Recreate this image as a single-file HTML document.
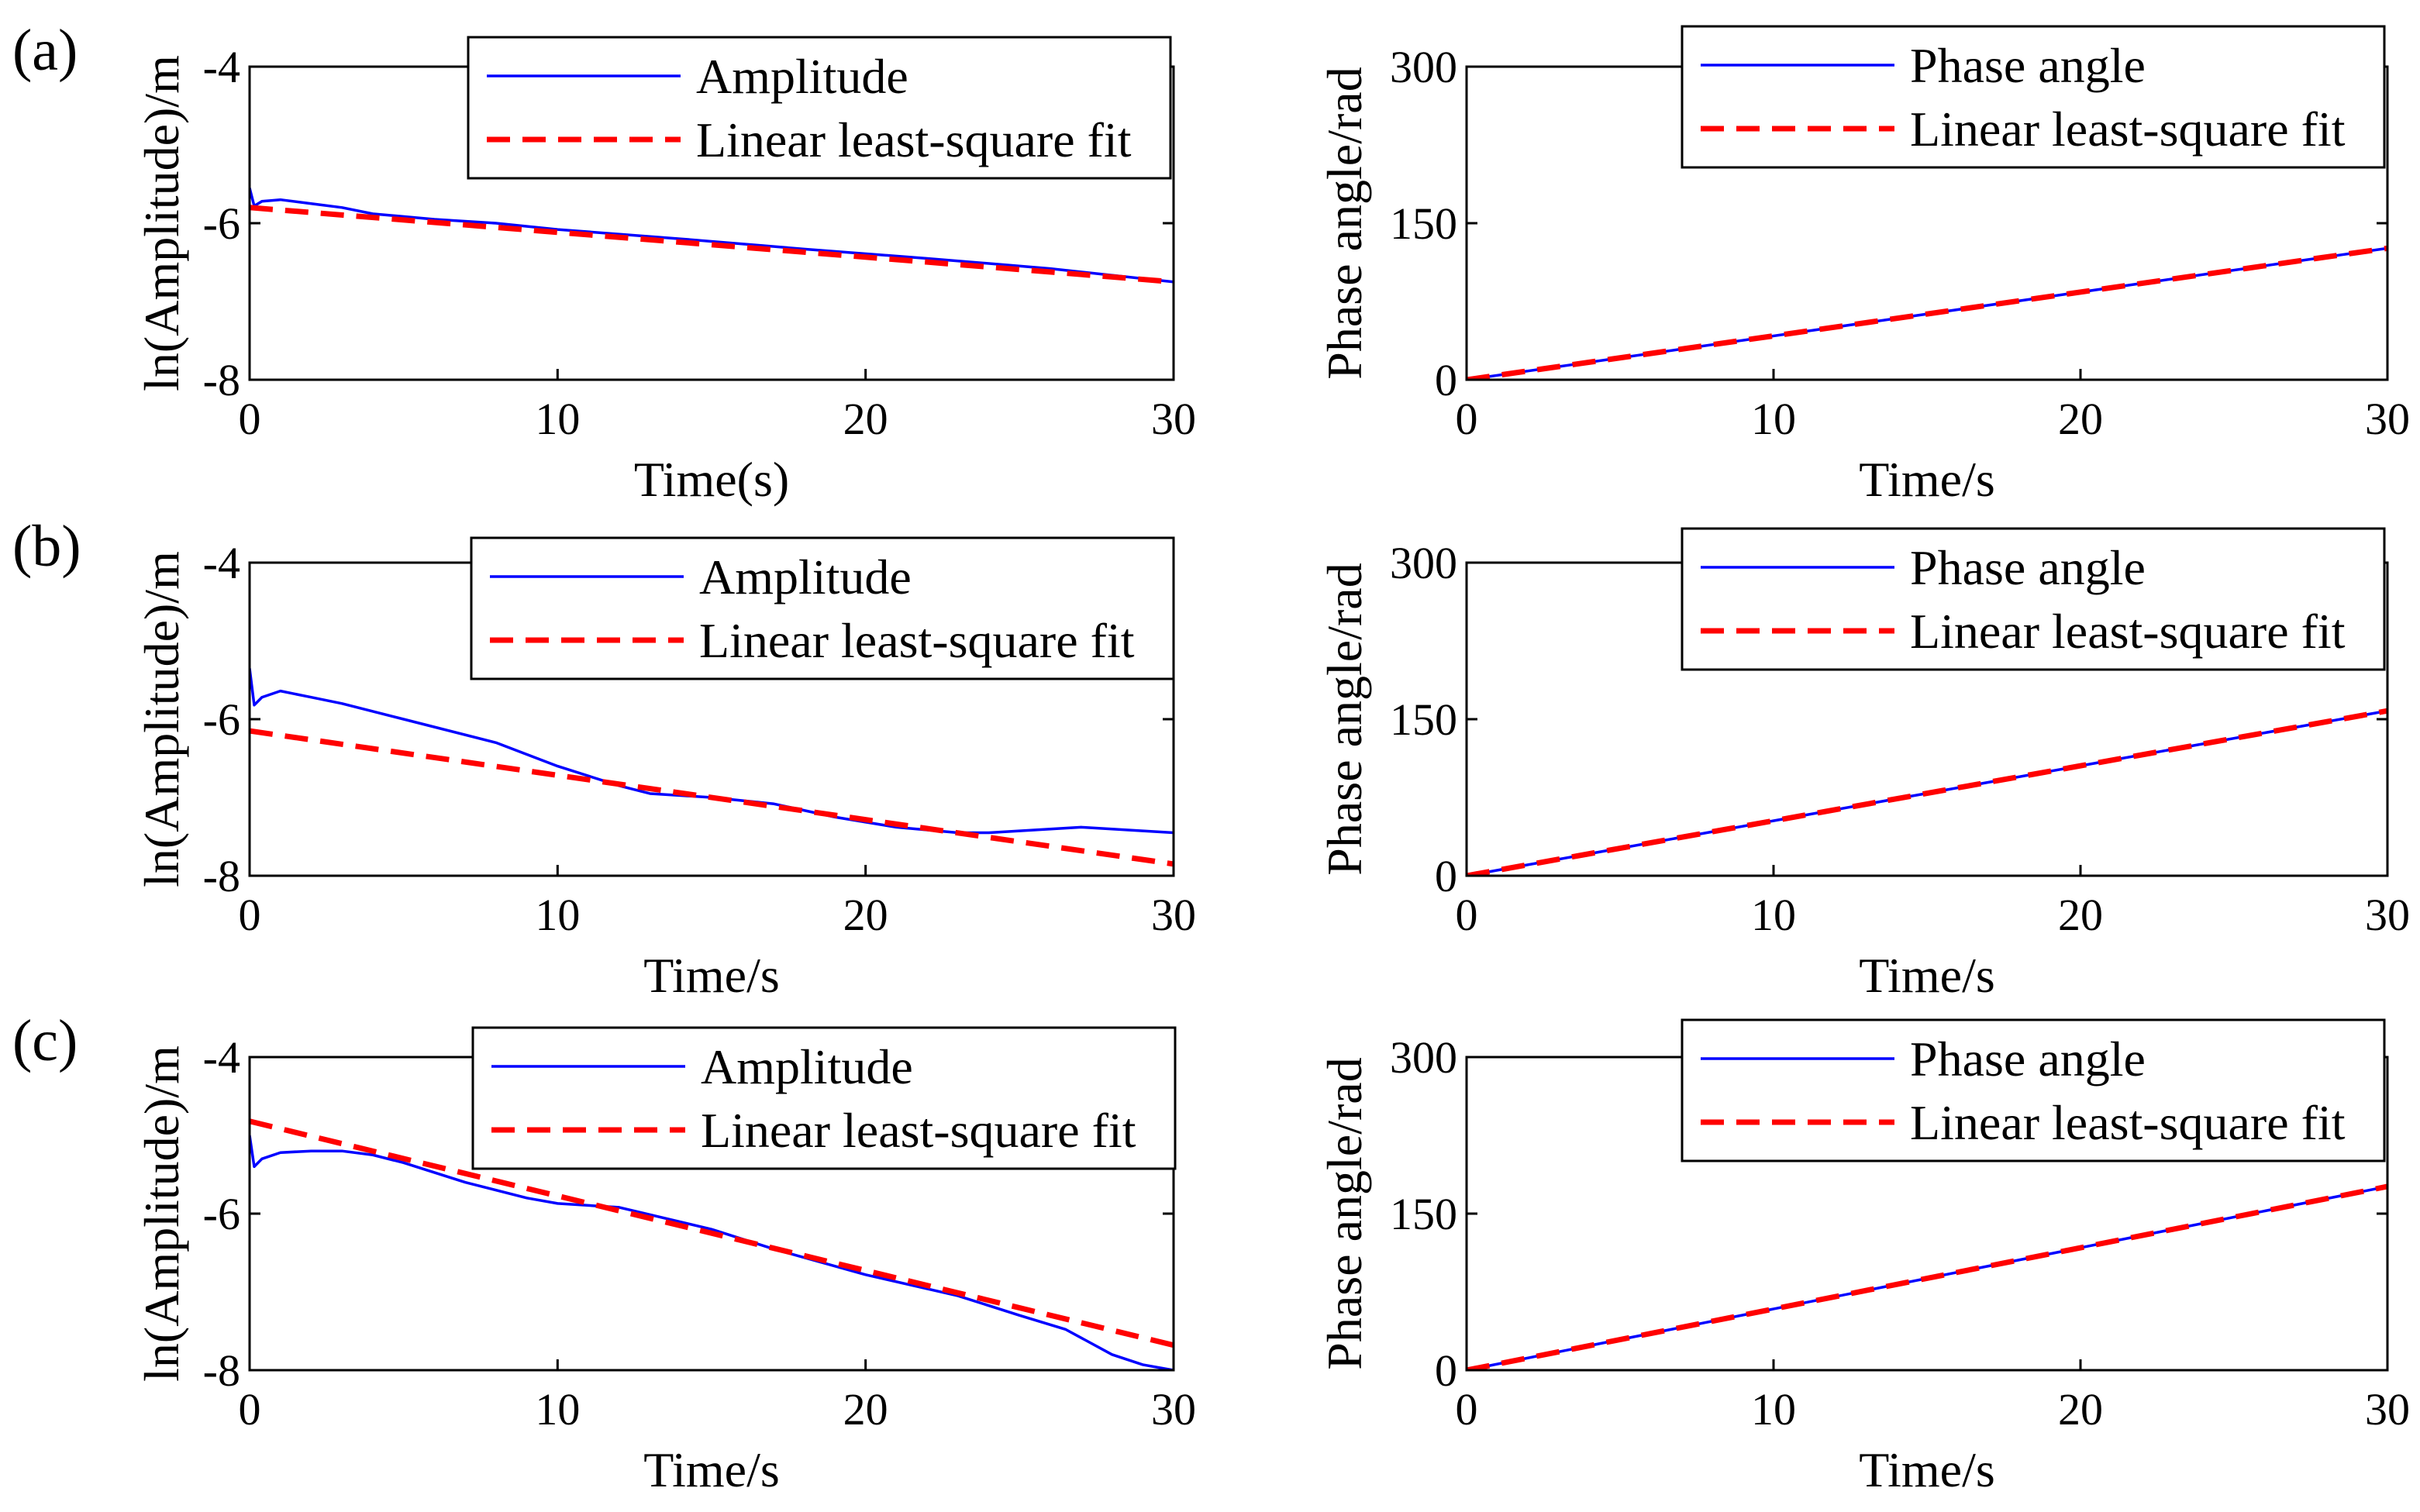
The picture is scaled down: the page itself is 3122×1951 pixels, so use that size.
<!DOCTYPE html>
<html><head><meta charset="utf-8"><style>
html,body{margin:0;padding:0;background:#fff;}
svg{display:block;font-family:"Liberation Serif",serif;}
</style></head><body>
<svg id="fig" width="3122" height="1951" viewBox="0 0 3122 1951" xmlns="http://www.w3.org/2000/svg"></svg>
<script>
// Data arrays
const timeTicks = [0, 10, 20, 30];
const ampTicks = [-4, -6, -8];
const phaseTicks = [0, 150, 300];
const panelLabels = ["(a)", "(b)", "(c)"];
const xTitles = ["Time(s)", "Time/s", "Time/s"];
const phaseEnds = [126, 158, 176];
const ampTimeA = [0, 0.15, 0.4, 1, 2, 3, 4, 6, 8, 10, 14, 18, 22, 26, 30];
const ampValA = [-5.55, -5.78, -5.72, -5.7, -5.75, -5.8, -5.88, -5.95, -6.0, -6.08, -6.2, -6.33, -6.45, -6.58, -6.75];
const fitA = [-5.8, -6.75];
const ampTimeB = [0, 0.15, 0.4, 1, 2, 3, 5, 8, 10, 12, 13, 15, 17, 19, 21, 23, 24, 27, 30];
const ampValB = [-5.35, -5.82, -5.72, -5.64, -5.72, -5.8, -6.0, -6.3, -6.6, -6.85, -6.95, -7.0, -7.08, -7.25, -7.38, -7.45, -7.45, -7.38, -7.45];
const fitB = [-6.15, -7.85];
const ampTimeC = [0, 0.15, 0.4, 1, 2, 3, 4, 5, 7, 9, 10, 12, 15, 17, 20, 23, 25, 26.5, 28, 29, 30];
const ampValC = [-5.0, -5.4, -5.3, -5.22, -5.2, -5.2, -5.25, -5.35, -5.6, -5.8, -5.87, -5.92, -6.2, -6.45, -6.78, -7.05, -7.3, -7.48, -7.8, -7.93, -8.0];
const fitC = [-4.82, -7.68];
const ampTimes = [ampTimeA, ampTimeB, ampTimeC];
const ampVals = [ampValA, ampValB, ampValC];
const fits = [fitA, fitB, fitC];

const NS = "http://www.w3.org/2000/svg";
const svg = document.getElementById("fig");
function el(tag, attrs, parent) {
  const e = document.createElementNS(NS, tag);
  for (const k in attrs) e.setAttribute(k, attrs[k]);
  (parent || svg).appendChild(e);
  return e;
}
const rowsY = [[86, 490], [726, 1130], [1364, 1768]];
const colsX = [[322, 1514], [1892, 3080]];
const legendBoxes = [
  [[604, 48, 906, 182], [2170, 34, 906, 182]],
  [[608, 694, 906, 182], [2170, 682, 906, 182]],
  [[610, 1326, 906, 182], [2170, 1316, 906, 182]]
];
const FS = 58, TS = 64, LS = 64;

for (let r = 0; r < 3; r++) {
  const t = el("text", {x: 16, y: rowsY[r][0] + 4, "font-size": 76}, svg);
  t.textContent = panelLabels[r];
  
  
  for (let c = 0; c < 2; c++) {
    const [x0, x1] = colsX[c];
    const [yT, yB] = rowsY[r];
    const g = el("g", {});
    
    
    const yMin = c === 0 ? -8 : 0, yMax = c === 0 ? -4 : 300;
    const X = t => x0 + (t / 30) * (x1 - x0);
    const Y = v => yB - (v - yMin) / (yMax - yMin) * (yB - yT);
    const cid = "clip" + r + c;
    const cp = el("clipPath", {id: cid}, g);
    el("rect", {x: x0, y: yT, width: x1 - x0, height: yB - yT}, cp);
    let times, vals, fit;
    if (c === 0) { times = ampTimes[r]; vals = ampVals[r]; fit = fits[r]; }
    else { times = [0, 30]; vals = [0, phaseEnds[r]]; fit = [0, phaseEnds[r]]; }
    const line = el("polyline", {points: times.map((t, i) => X(t) + "," + Y(vals[i])).join(" "), fill: "none", stroke: "#0000ff", "stroke-width": 3.5, "stroke-linejoin": "round", "clip-path": "url(#" + cid + ")"}, g);
    
    
    const fl = el("line", {x1: X(0), y1: Y(fit[0]), x2: X(30), y2: Y(fit[1]), stroke: "#ff0000", "stroke-width": 7, "stroke-dasharray": "30 16", "clip-path": "url(#" + cid + ")"}, g);
    
    
    el("rect", {x: x0, y: yT, width: x1 - x0, height: yB - yT, fill: "none", stroke: "#000", "stroke-width": 3}, g);
    timeTicks.forEach(t => {
      el("line", {x1: X(t), y1: yB, x2: X(t), y2: yB - 14, stroke: "#000", "stroke-width": 3}, g);
      el("line", {x1: X(t), y1: yT, x2: X(t), y2: yT + 14, stroke: "#000", "stroke-width": 3}, g);
      const tx = el("text", {x: X(t), y: yB + 70, "font-size": FS, "text-anchor": "middle"}, g);
      tx.textContent = t;
      
      
    });
    (c === 0 ? ampTicks : phaseTicks).forEach(v => {
      el("line", {x1: x0, y1: Y(v), x2: x0 + 14, y2: Y(v), stroke: "#000", "stroke-width": 3}, g);
      el("line", {x1: x1, y1: Y(v), x2: x1 - 14, y2: Y(v), stroke: "#000", "stroke-width": 3}, g);
      const ty = el("text", {x: x0 - 12, y: Y(v) + 20, "font-size": FS, "text-anchor": "end"}, g);
      ty.textContent = v;
      
      
    });
    const xt = el("text", {x: (x0 + x1) / 2, y: yB + 150, "font-size": TS, "text-anchor": "middle"}, g);
    xt.textContent = c === 0 ? xTitles[r] : "Time/s";
    
    
    const yx = c === 0 ? 230 : 1756, ym = (yT + yB) / 2;
    const yt = el("text", {x: yx, y: ym, "font-size": TS, "text-anchor": "middle", transform: "rotate(-90 " + yx + " " + ym + ")"}, g);
    yt.textContent = c === 0 ? "ln(Amplitude)/m" : "Phase angle/rad";
    
    
    const [lx, ly, lw, lh] = legendBoxes[r][c];
    const lg = el("g", {}, g);
    
    
    el("rect", {x: lx, y: ly, width: lw, height: lh, fill: "#fff", stroke: "#000", "stroke-width": 3}, lg);
    el("line", {x1: lx + 24, y1: ly + 50, x2: lx + 274, y2: ly + 50, stroke: "#0000ff", "stroke-width": 3.5}, lg);
    el("line", {x1: lx + 24, y1: ly + 132, x2: lx + 274, y2: ly + 132, stroke: "#ff0000", "stroke-width": 7, "stroke-dasharray": "30 16"}, lg);
    const l1 = el("text", {x: lx + 294, y: ly + 72, "font-size": LS}, lg);
    l1.textContent = c === 0 ? "Amplitude" : "Phase angle";
    
    
    const l2 = el("text", {x: lx + 294, y: ly + 154, "font-size": LS}, lg);
    l2.textContent = "Linear least-square fit";
    
    
  }
}
</script>
</body></html>
